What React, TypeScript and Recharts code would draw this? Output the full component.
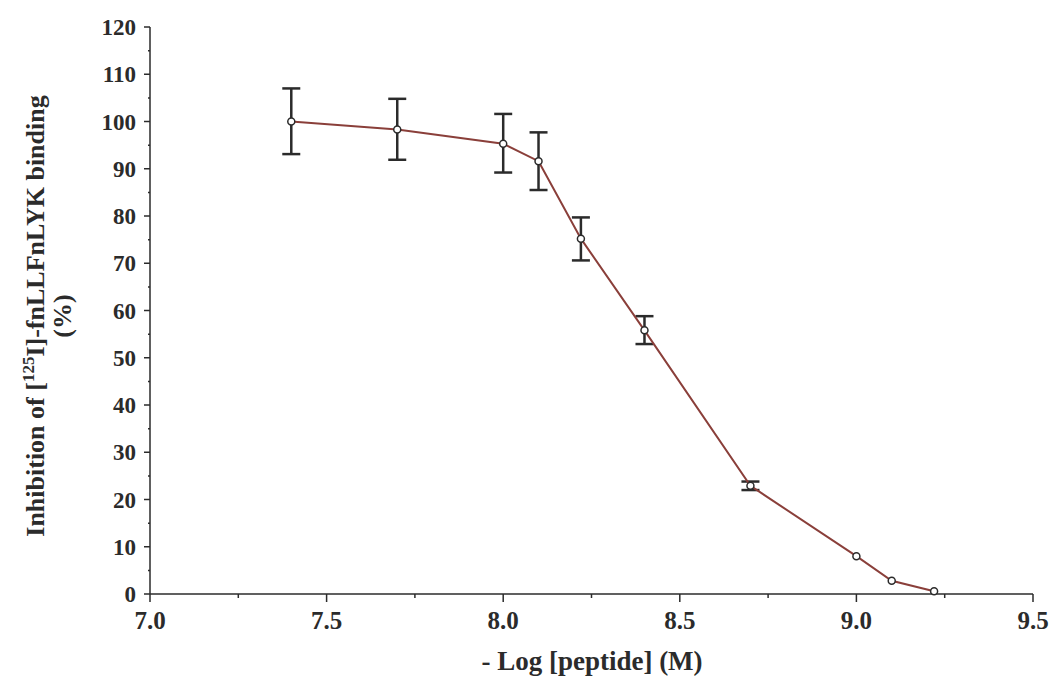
import React from 'react';
import { LineChart, Line, XAxis, YAxis, ErrorBar } from 'recharts';

// -log[peptide] (M)
const logDose = [7.4, 7.7, 8.0, 8.1, 8.22, 8.4, 8.7, 9.0, 9.1, 9.22];
// % inhibition of binding
const inhibition = [100, 98.3, 95.3, 91.6, 75.2, 55.8, 22.9, 8.0, 2.8, 0.6];
// error (minus, plus); null where no bar is drawn
const errLow = [6.9, 6.4, 6.1, 6.1, 4.6, 2.9, 0.9, null, null, null];
const errHigh = [7.0, 6.5, 6.3, 6.1, 4.5, 3.0, 0.9, null, null, null];

const xTicks = [7.0, 7.25, 7.5, 7.75, 8.0, 8.25, 8.5, 8.75, 9.0, 9.25, 9.5];
const yTicks = Array.from({ length: 25 }, (_, i) => i * 5);

const data = logDose.map((x, i) => ({
  x,
  y: inhibition[i],
  err: errLow[i] == null ? null : [errLow[i], errHigh[i]],
}));

const FONT = '"Liberation Serif", "Times New Roman", serif';
const INK = '#2b2b2b';

const XTick = ({ x, y, payload }: any) => {
  const v = payload.value;
  const major = Math.abs(v * 2 - Math.round(v * 2)) < 1e-6;
  return (
    <g>
      <line x1={x} x2={x} y1={y} y2={y + (major ? 8 : 4)} stroke={INK} strokeWidth={1.5} />
      {major && (
        <text x={x} y={y + 35} textAnchor="middle" fontFamily={FONT} fontWeight="bold" fontSize={25} fill={INK}>
          {v.toFixed(1)}
        </text>
      )}
    </g>
  );
};

const YTick = ({ x, y, payload }: any) => {
  const v = payload.value;
  const major = v % 10 === 0;
  return (
    <g>
      <line x1={x} x2={x - (major ? 6 : 2)} y1={y} y2={y} stroke={INK} strokeWidth={1.5} />
      {major && (
        <text x={x - 14} y={y + 8} textAnchor="end" fontFamily={FONT} fontWeight="bold" fontSize={23} fill={INK}>
          {v}
        </text>
      )}
    </g>
  );
};

const YTitle = () => (
  <g transform="translate(0,316) rotate(-90)" fontFamily={FONT} fontWeight="bold" fontSize={26} fill={INK}>
    <text x={0} y={44} textAnchor="middle">
      Inhibition of [<tspan dy={-10} fontSize={17}>125</tspan>
      <tspan dy={10}>I]-fnLLFnLYK binding</tspan>
    </text>
    <text x={0} y={71} textAnchor="middle">(%)</text>
  </g>
);

const XTitle = () => (
  <text x={592} y={670} textAnchor="middle" fontFamily={FONT} fontWeight="bold" fontSize={27} fill={INK}>
    - Log [peptide] (M)
  </text>
);

const Marker = ({ cx, cy }: any) => (
  <circle cx={cx} cy={cy} r={3.5} fill="#fff" stroke={INK} strokeWidth={1.5} />
);

export default function App() {
  return (
    <div style={{ position: 'absolute', left: 0, top: 0, background: '#fff' }}>
      <LineChart width={1056} height={677} data={data} margin={{ top: 27, right: 23, bottom: 53, left: 0 }}>
        <XAxis
          dataKey="x"
          type="number"
          domain={[7, 9.5]}
          ticks={xTicks}
          interval={0}
          height={30}
          tick={<XTick />}
          tickLine={false}
          tickSize={0}
          tickMargin={0}
          axisLine={{ stroke: INK, strokeWidth: 1.5 }}
          label={{ content: () => <XTitle /> }}
        />
        <YAxis
          type="number"
          domain={[0, 120]}
          ticks={yTicks}
          interval={0}
          width={150}
          tick={<YTick />}
          tickLine={false}
          tickSize={0}
          tickMargin={0}
          axisLine={{ stroke: INK, strokeWidth: 1.5 }}
          label={{ content: () => <YTitle /> }}
        />
        <Line
          dataKey="y"
          stroke="#8a3f3a"
          strokeWidth={2}
          dot={<Marker />}
          activeDot={false}
          isAnimationActive={false}
        >
          <ErrorBar dataKey="err" direction="y" width={9} stroke={INK} strokeWidth={2.5} />
        </Line>
      </LineChart>
    </div>
  );
}
